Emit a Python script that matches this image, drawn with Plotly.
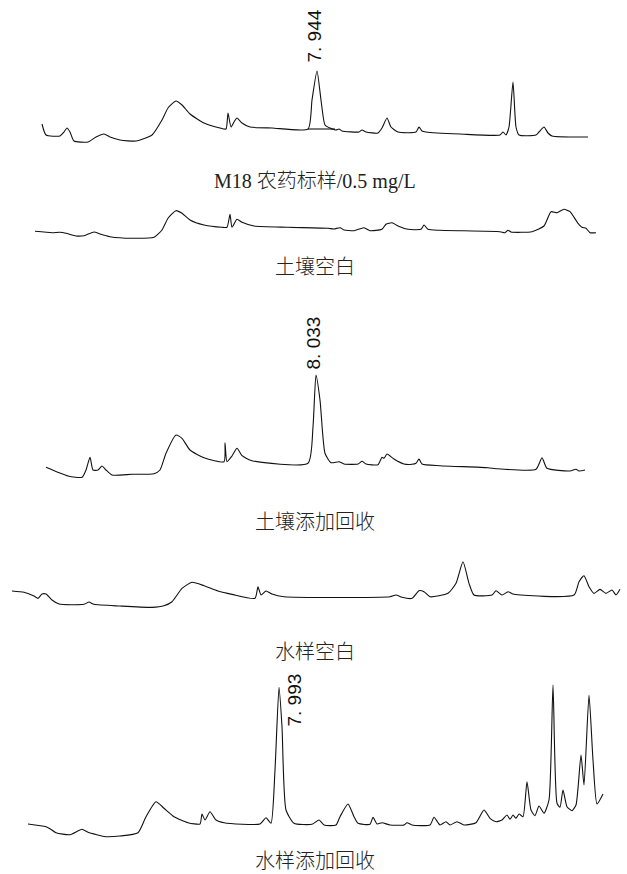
import plotly.graph_objects as go

# ---------------------------------------------------------------------------
# Chromatograms: retention time (min) and detector response (arbitrary units)
# ---------------------------------------------------------------------------

# M18 pesticide standard, 0.5 mg/L
std_time = [1.069, 1.169, 1.519, 1.619, 1.694, 1.769, 1.869, 2.219, 2.419, 2.619,
            2.769, 3.019, 3.419, 3.819, 4.069, 4.219, 4.419, 4.569, 4.769, 5.119,
            5.519, 5.669, 5.719, 5.794, 5.869, 5.944, 6.069, 6.269, 6.819, 7.719,
            7.819, 7.944, 8.044, 8.144, 8.269, 8.419, 8.494, 8.569, 8.994, 9.069,
            9.169, 9.469, 9.569, 9.694, 9.794, 9.969, 10.419, 10.494, 10.569, 10.669,
            11.519, 12.519, 12.594, 12.669, 12.744, 12.844, 12.919, 12.994, 13.419, 13.494,
            13.619, 13.719, 13.819, 14.719]
std_signal = [21, 10, 9, 13, 17, 13, 4, 3, 8, 11,
              8, 5, 4, 10, 25, 37, 44, 40, 31, 22,
              17, 16, 32, 18, 23, 27, 22, 18, 17, 16,
              45, 74, 45, 20, 17, 15, 16, 14, 13, 15,
              13, 12, 17, 27, 18, 13, 13, 18, 14, 13,
              11, 10, 13, 10, 18, 63, 18, 10, 10, 13,
              18, 12, 9, 8]
std_peak_rt = 7.944
std_baseline_time = [7.719, 8.394]
std_baseline_signal = [16, 16]

# Soil blank
soil_blank_time = [0.894, 1.319, 1.519, 1.669, 1.919, 2.119, 2.369, 2.519, 2.769, 3.319,
                   3.869, 4.069, 4.219, 4.419, 4.569, 4.769, 5.119, 5.569, 5.694, 5.769,
                   5.819, 5.944, 6.069, 6.369, 7.219, 8.219, 8.369, 8.519, 8.619, 8.869,
                   9.119, 9.269, 9.569, 9.669, 9.819, 9.969, 10.219, 10.544, 10.619, 10.719,
                   11.019, 12.519, 12.644, 12.719, 12.794, 13.319, 13.619, 13.794, 13.944, 14.119,
                   14.269, 14.469, 14.569, 14.669, 14.769, 14.919]
soil_blank_signal = [13.7, 12.3, 12.7, 11.7, 9, 9.3, 13, 11, 8.3, 6.7,
                     7.7, 15, 26.7, 34.3, 31.7, 25, 20, 17.7, 17.7, 30.7,
                     17.7, 25.7, 22.7, 19, 17.7, 16.7, 16, 17.3, 15, 14.3,
                     17.3, 14.3, 15.7, 20.7, 22.3, 19, 15.7, 15.7, 20, 15.7,
                     14.7, 13.3, 12.3, 14.7, 13, 13.3, 19, 33.3, 32.3, 35.7,
                     33.3, 21.7, 17.7, 16.7, 12.3, 12.3]

# Spiked soil recovery
soil_spike_time = [1.283, 1.833, 2.183, 2.283, 2.383, 2.458, 2.583, 2.683, 2.783, 2.933,
                   3.433, 3.983, 4.133, 4.283, 4.533, 4.683, 4.883, 5.233, 5.733, 5.758,
                   5.808, 5.933, 6.058, 6.183, 6.433, 7.833, 7.958, 8.033, 8.133, 8.258,
                   8.408, 8.608, 8.733, 9.083, 9.183, 9.283, 9.583, 9.683, 9.733, 9.808,
                   9.983, 10.233, 10.433, 10.533, 10.608, 10.683, 11.133, 12.333, 12.533, 13.533,
                   13.683, 13.808, 14.383, 14.533, 14.608, 14.758]
soil_spike_signal = [12.7, 4, 2.7, 10, 22.7, 10, 10, 14, 10, 5,
                     5.7, 6.3, 10, 26.7, 45, 41.7, 30, 22.3, 18.3, 37.3,
                     18.3, 24, 31.7, 24.3, 19.3, 16.7, 53.3, 105, 80, 26.7,
                     17.3, 18.3, 16, 16, 18.7, 16, 15.3, 22.7, 21.7, 26,
                     21, 16, 15.7, 16.7, 21, 16, 14.3, 12.3, 11.3, 10.7,
                     22.3, 11.7, 9, 10.7, 9, 10]
soil_spike_peak_rt = 8.033

# Water blank
water_blank_time = [1.318, 1.618, 1.868, 1.968, 2.068, 2.168, 2.318, 2.493, 3.118, 3.243,
                    3.368, 4.018, 4.818, 5.118, 5.318, 5.568, 5.818, 6.118, 6.468, 6.818,
                    7.393, 7.468, 7.543, 7.668, 7.818, 8.118, 10.768, 10.918, 11.068, 11.318,
                    11.493, 11.618, 11.768, 12.218, 12.418, 12.593, 12.743, 12.868, 13.318, 13.418,
                    13.568, 13.718, 13.868, 15.368, 15.493, 15.618, 15.743, 15.868, 16.018, 16.168,
                    16.318, 16.418, 16.518]
water_blank_signal = [24, 22.7, 19, 16.7, 21, 21, 15, 11, 10.7, 13,
                      10.7, 9, 7.7, 9.3, 13.3, 26.7, 32.7, 29.3, 24, 20.7,
                      16.7, 28.3, 20, 24, 21, 18.3, 18.3, 20, 17.7, 16.7,
                      24.3, 23.3, 18.3, 21.7, 31.7, 53.3, 31.7, 20, 20, 24.3,
                      20, 23.3, 20.7, 20, 33.3, 39.3, 28.3, 21.7, 25.7, 21.7,
                      25, 20, 25.7]

# Spiked water recovery
water_spike_time = [1.718, 2.168, 2.268, 2.418, 2.768, 3.068, 3.218, 3.668, 4.018, 4.468,
                    4.668, 4.918, 5.118, 5.368, 5.718, 6.018, 6.068, 6.143, 6.268, 6.418,
                    6.618, 7.518, 7.668, 7.793, 7.893, 7.993, 8.068, 8.168, 8.368, 8.818,
                    8.993, 9.118, 9.418, 9.518, 9.718, 9.868, 9.968, 10.268, 10.343, 10.443,
                    10.568, 10.768, 11.118, 11.193, 11.318, 11.768, 11.868, 12.018, 12.168, 12.268,
                    12.443, 12.618, 12.918, 13.118, 13.268, 13.418, 13.568, 13.693, 13.768, 13.843,
                    13.918, 13.993, 14.093, 14.193, 14.293, 14.393, 14.493, 14.618, 14.743, 14.843,
                    14.943, 15.018, 15.093, 15.193, 15.318, 15.418, 15.543, 15.618, 15.743, 15.843,
                    15.943, 16.093]
water_spike_signal = [21, 18.3, 16.3, 12.3, 10.3, 15.7, 12.7, 8.3, 9, 12.3,
                      28.3, 43.3, 36.7, 28.3, 22.3, 21, 31, 25, 33.3, 25,
                      22.3, 21, 27.3, 21.7, 75, 157.7, 118.3, 35, 21.7, 20.7,
                      25, 20, 20, 28.3, 41, 28.3, 21.7, 20.7, 27.7, 21,
                      22.3, 20, 20, 22.3, 20, 20, 27.7, 20, 23.3, 20,
                      23.3, 20, 22.3, 35, 26.7, 23.3, 25, 30, 25.7, 30,
                      26.7, 31, 28.3, 63.3, 35, 29.3, 39, 31.7, 45, 160,
                      41.7, 37.7, 55, 38.3, 34.3, 40, 90, 60, 150, 85,
                      41, 51]
water_spike_peak_rt = 7.993

# Panel captions
captions = ["M18 农药标样/0.5 mg/L", "土壤空白", "土壤添加回收", "水样空白", "水样添加回收"]

# ---------------------------------------------------------------------------
W, H = 627, 874
LINE = dict(color="#111111", width=1.1, shape="spline", smoothing=0.55)

panels = [
    # time, signal, x range, y domain, y range
    (std_time, std_signal, [0.019, 15.694], [0.8341, 1.0], [0, 145]),
    (soil_blank_time, soil_blank_signal, [0.019, 15.694], [0.7197, 0.7769], [0, 50]),
    (soil_spike_time, soil_spike_signal, [0.133, 15.808], [0.4508, 0.6568], [0, 180]),
    (water_blank_time, water_blank_signal, [1.018, 16.693], [0.2963, 0.3764], [0, 70]),
    (water_spike_time, water_spike_signal, [1.018, 16.693], [0.0332, 0.2334], [0, 175]),
]

fig = go.Figure()
layout = {}
for i, (t, s, xr, ydom, yr) in enumerate(panels, start=1):
    sfx = "" if i == 1 else str(i)
    fig.add_trace(go.Scatter(x=t, y=s, mode="lines", line=LINE,
                             xaxis="x" + sfx, yaxis="y" + sfx,
                             hoverinfo="skip", showlegend=False))
    axis_common = dict(visible=False, showgrid=False, zeroline=False, fixedrange=True)
    layout["xaxis" + sfx] = dict(domain=[0, 1], range=xr, anchor="y" + sfx, **axis_common)
    layout["yaxis" + sfx] = dict(domain=ydom, range=yr, anchor="x" + sfx, **axis_common)

# integration baseline under the standard's target peak
fig.add_trace(go.Scatter(x=std_baseline_time, y=std_baseline_signal, mode="lines",
                         line=dict(color="#111111", width=1.1),
                         xaxis="x", yaxis="y", hoverinfo="skip", showlegend=False))

fig.update_layout(**layout)


def rt_label(rt):
    return f"{rt:.3f}".replace(".", ". ")


peak_font = dict(family="Liberation Sans, Arial, sans-serif", size=19, color="#111111")
annotations = [
    dict(x=std_peak_rt, y=max(std_signal), xref="x", yref="y",
         text=rt_label(std_peak_rt), textangle=-90, showarrow=False,
         xanchor="center", yanchor="bottom", xshift=-3, yshift=6, font=peak_font),
    dict(x=soil_spike_peak_rt, y=max(soil_spike_signal), xref="x3", yref="y3",
         text=rt_label(soil_spike_peak_rt), textangle=-90, showarrow=False,
         xanchor="center", yanchor="bottom", xshift=-3, yshift=3, font=peak_font),
    dict(x=water_spike_peak_rt, y=max(water_spike_signal), xref="x5", yref="y5",
         text=rt_label(water_spike_peak_rt), textangle=-90, showarrow=False,
         xanchor="center", yanchor="top", xshift=16, yshift=13, font=peak_font),
]

caption_font = dict(family="Liberation Serif, 'Times New Roman', 'Noto Sans CJK SC', serif",
                    size=20, color="#222222", weight=300)
caption_y = [0.7918, 0.6945, 0.4027, 0.2540, 0.0150]
for text, y in zip(captions, caption_y):
    annotations.append(dict(x=0.503, y=y, xref="paper", yref="paper", text=text,
                            showarrow=False, xanchor="center", yanchor="middle",
                            font=caption_font))

fig.update_layout(
    width=W, height=H,
    margin=dict(l=0, r=0, t=0, b=0, pad=0),
    paper_bgcolor="white", plot_bgcolor="white",
    annotations=annotations,
    showlegend=False,
)

fig.write_html("out.html", include_plotlyjs=True, config={"displayModeBar": False})
